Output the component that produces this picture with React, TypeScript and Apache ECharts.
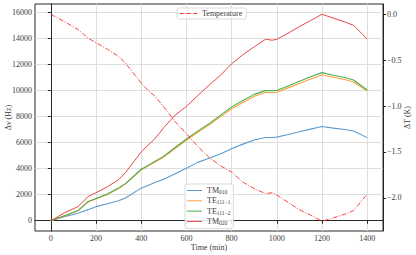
import React, { useEffect, useRef } from 'react';
import * as echarts from 'echarts';

const times = [0, 60, 120, 165, 200, 250, 300, 330, 400, 430, 460, 500, 550, 600, 650, 700, 750, 800, 850, 900, 950, 980, 1000, 1050, 1100, 1150, 1200, 1250, 1300, 1340, 1400];
const tm010 = [0, 300, 580, 850, 1080, 1300, 1540, 1750, 2500, 2700, 2930, 3190, 3600, 4030, 4480, 4800, 5130, 5530, 5880, 6200, 6390, 6390, 6420, 6620, 6830, 7030, 7230, 7110, 7000, 6890, 6380];
const te1111 = [0, 370, 760, 1440, 1670, 2020, 2480, 2810, 3900, 4200, 4490, 4890, 5540, 6180, 6790, 7340, 7970, 8600, 9080, 9550, 9840, 9840, 9860, 10200, 10540, 10880, 11190, 11010, 10840, 10650, 9950];
const te1112 = [0, 380, 780, 1470, 1700, 2050, 2520, 2850, 3950, 4250, 4550, 4960, 5620, 6270, 6880, 7450, 8090, 8740, 9230, 9700, 9990, 9990, 10000, 10350, 10700, 11050, 11370, 11170, 11000, 10800, 10040];
const tm020 = [0, 600, 1080, 1850, 2150, 2600, 3150, 3680, 5280, 5800, 6280, 7150, 8100, 8780, 9600, 10400, 11150, 12050, 12750, 13350, 13930, 13860, 13930, 14400, 14900, 15380, 15850, 15560, 15270, 15000, 13950];
const temperature = [0, -0.08, -0.165, -0.26, -0.31, -0.38, -0.46, -0.53, -0.75, -0.83, -0.89, -1.01, -1.17, -1.3, -1.44, -1.56, -1.65, -1.72, -1.83, -1.9, -1.955, -1.945, -1.97, -2.05, -2.13, -2.19, -2.256, -2.22, -2.18, -2.14, -1.96];

const xTicks = [0, 200, 400, 600, 800, 1000, 1200, 1400];
const yTicks = [0, 2000, 4000, 6000, 8000, 10000, 12000, 14000, 16000];
const tTicks = [0, -0.5, -1, -1.5, -2];

const FONT = 'Liberation Serif';
const INK = '#262626';
const TXT = '#3a3a3a';

const subs: Record<string, string> = {
  TM010: '{m|TM}{s|010}',
  'TE111-1': '{m|TE}{s|111−1}',
  'TE111-2': '{m|TE}{s|111−2}',
  TM020: '{m|TM}{s|020}',
  Temperature: '{m|Temperature}',
};

const SOLID_ICON = 'path://M0,0H30V2H0Z';
const DASHDOT_ICON = 'path://M0,0H9V2H0Z M12,0H14V2H12Z M17,0H26V2H17Z M29,0H31V2H29Z M34,0H43V2H34Z';

export default function App() {
  const ref = useRef<HTMLDivElement>(null);
  useEffect(() => {
    if (!ref.current) return;
    const chart = echarts.init(ref.current, undefined, { renderer: 'svg' });
    const zip = (ys: number[]) => times.map((t, i) => [t, ys[i]]);
    const mk = (name: string, ys: number[], color: string, width: number, yAxisIndex = 0, type: any = 'solid') => ({
      name,
      type: 'line',
      data: zip(ys),
      yAxisIndex,
      symbol: 'none',
      showSymbol: false,
      lineStyle: { color, width, type },
      itemStyle: { color },
      z: 3,
    });
    const rich = {
      m: { fontSize: 8, fontFamily: FONT, color: TXT, lineHeight: 9 },
      s: { fontSize: 5.5, fontFamily: FONT, color: TXT, verticalAlign: 'bottom', lineHeight: 9 },
    };
    const legendBase = {
      orient: 'vertical',
      backgroundColor: 'rgba(255,255,255,0.85)',
      borderColor: '#d0d0d0',
      borderWidth: 0.8,
      borderRadius: 2,
      itemHeight: 1.4,
      itemGap: 1.8,
      formatter: (n: string) => subs[n] || n,
      textStyle: { fontSize: 8, fontFamily: FONT, color: TXT, rich },
    };
    const nameStyle = { fontSize: 8, fontFamily: FONT, color: TXT, fontWeight: 'normal' };
    const labelStyle = { fontSize: 8, fontFamily: FONT, color: TXT, fontWeight: 'normal' };
    chart.setOption({
      animation: false,
      backgroundColor: '#fff',
      textStyle: { fontFamily: FONT },
      grid: {
        left: 35,
        right: 33,
        top: 4,
        bottom: 24,
        show: true,
        borderColor: INK,
        borderWidth: 1,
        containLabel: false,
        outerBoundsMode: 'none',
      },
      legend: [
        {
          ...legendBase,
          data: ['TM010', 'TE111-1', 'TE111-2', 'TM020'].map((n) => ({ name: n, icon: SOLID_ICON })),
          left: 185,
          top: 184,
          itemWidth: 15,
          padding: [2.5, 3, 2.5, 2],
        },
        {
          ...legendBase,
          data: [{ name: 'Temperature', icon: DASHDOT_ICON }],
          left: 177,
          top: 8,
          itemWidth: 17,
          padding: [1.5, 4, 1.5, 3],
        },
      ],
      xAxis: {
        type: 'value',
        min: -70,
        max: 1470,
        name: 'Time (min)',
        nameLocation: 'middle',
        nameGap: 12,
        nameMoveOverlap: false,
        nameTextStyle: nameStyle,
        axisLine: { show: true, lineStyle: { color: INK, width: 1 } },
        axisTick: { show: true, length: 3, customValues: xTicks, lineStyle: { color: INK } },
        axisLabel: { customValues: xTicks, ...labelStyle, margin: 3, formatter: (v: number) => String(v) },
        splitLine: { show: true, lineStyle: { color: '#dedede', width: 1 } },
      },
      yAxis: [
        {
          type: 'value',
          min: -790,
          max: 16640,
          name: 'Δν (Hz)',
          nameLocation: 'middle',
          nameRotate: 90,
          nameGap: 23,
          nameMoveOverlap: false,
          nameTextStyle: nameStyle,
          axisLine: { show: true, lineStyle: { color: INK, width: 1 } },
          axisTick: { show: true, length: 3, customValues: yTicks, lineStyle: { color: INK } },
          axisLabel: { customValues: yTicks, ...labelStyle, margin: 3, formatter: (v: number) => String(v) },
          splitLine: { show: true, lineStyle: { color: '#dedede', width: 1 } },
        },
        {
          type: 'value',
          position: 'right',
          min: -2.3625,
          max: 0.1125,
          name: 'ΔT (K)',
          nameLocation: 'middle',
          nameRotate: 90,
          nameGap: 20,
          nameMoveOverlap: false,
          nameTextStyle: nameStyle,
          axisLine: { show: true, lineStyle: { color: INK, width: 1 } },
          axisTick: { show: true, length: 3, customValues: tTicks, lineStyle: { color: INK } },
          axisLabel: {
            customValues: tTicks,
            ...labelStyle,
            margin: 4,
            formatter: (v: number) => v.toFixed(1).replace('-', '−'),
          },
          splitLine: { show: false },
        },
      ],
      series: [
        mk('TM010', tm010, '#5b9bd0', 1.1),
        mk('TE111-1', te1111, '#ffa040', 1.1),
        mk('TE111-2', te1112, '#4fae4f', 1.1),
        mk('TM020', tm020, '#e8474a', 1),
        mk('Temperature', temperature, '#ff2a2a', 0.9, 1, [5, 1.6, 1, 1.6]),
      ],
    });
    return () => chart.dispose();
  }, []);
  return <div ref={ref} style={{ width: 416, height: 255, position: 'absolute', left: 0, top: 0 }} />;
}
